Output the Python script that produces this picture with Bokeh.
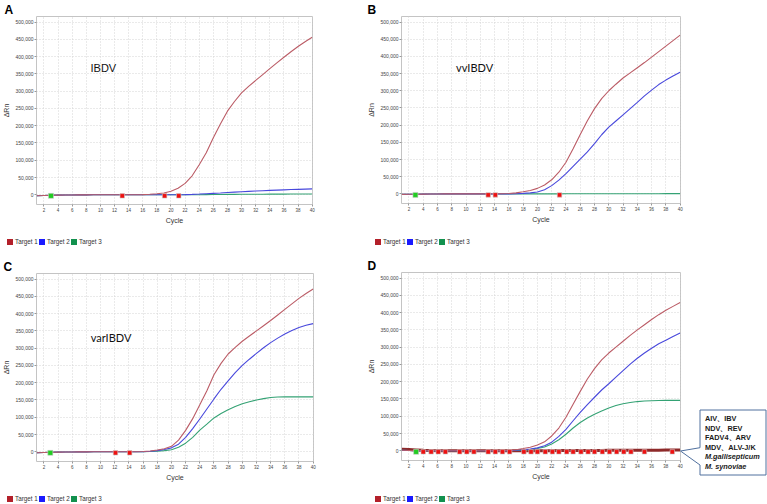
from bokeh.plotting import figure
from bokeh.layouts import row, column
from bokeh.models import Label, NumeralTickFormatter, FixedTicker, Range1d, Div
from bokeh.embed import file_html
from bokeh.resources import INLINE

# ---------------- data ----------------
cycles = list(range(1, 41))
x_ticks = list(range(2, 41, 2))
y_ticks = list(range(0, 500001, 50000))
legend_labels = ["Target 1", "Target 2", "Target 3"]

a_t1 = [-2500, -1800, -1200, -800, -500, -300, -200, -100, 0, 0, 0, 0, 0, 100, 300, 700, 1500, 3000, 5500, 10500,
        19000, 33000, 55000, 87000, 122000, 165000, 205000, 242000, 270000, 295000, 314000, 331000, 348000, 365000,
        382000, 398000, 414000, 429000, 443000, 456000]
a_t2 = [-2500, -1800, -1200, -800, -500, -300, -200, -100, 0, 0, 0, 0, 0, 0, 0, 0, 0, 0, 0, 0,
        200, 600, 1300, 2200, 3200, 4300, 5400, 6600, 7800, 8900, 10000, 11000, 11900, 12800, 13600, 14400, 15200,
        15900, 16600, 17300]
a_t3 = [-2500, -1800, -1200, -800, -500, -300, -200, -100, 0, 0, 0, 0, 0, 0, 0, 0, 0, 0, 0, 0,
        0, 0, 200, 400, 600, 800, 1000, 1200, 1400, 1500, 1600, 1700, 1800, 1900, 2000, 2100, 2200, 2300, 2400, 2500]

b_t1 = [-1500, -1200, -900, -600, -400, -200, -100, 0, 0, 0, 0, 0, 0, 200, 500, 1000, 3000, 6000, 10000, 16000,
        26000, 41000, 63000, 92000, 131000, 173000, 213000, 248000, 277000, 300000, 319000, 337000, 352000, 367000,
        382000, 398000, 414000, 430000, 446000, 462000]
b_t2 = [-1500, -1200, -900, -600, -400, -200, -100, 0, 0, 0, 0, 0, 0, 0, 0, 0, 500, 1500, 3000, 5500,
        12000, 24000, 40000, 59000, 80000, 101000, 122000, 146000, 172000, 194000, 212000, 230000, 248000, 266000,
        285000, 302000, 318000, 331000, 343000, 354000]
b_t3 = [-1500, -1200, -900, -600, -400, -200, -100, 0, 0, 0, 0, 0, 0, 0, 0, 0, 0, 0, 0, 0,
        0, 0, 100, 150, 200, 250, 300, 350, 400, 400, 450, 450, 500, 500, 500, 550, 550, 600, 600, 600]

c_t1 = [-2500, -1800, -1200, -800, -500, -300, -200, -100, 0, 0, 0, 0, 0, 0, 0, 1000, 2500, 5500, 9000, 16000,
        34000, 62000, 96000, 136000, 177000, 223000, 256000, 283000, 302000, 320000, 335000, 350000, 365000, 380000,
        396000, 412000, 428000, 444000, 458000, 471000]
c_t2 = [-2500, -1800, -1200, -800, -500, -300, -200, -100, 0, 0, 0, 0, 0, 0, 0, 500, 1500, 3500, 6500, 11500,
        22000, 42000, 67000, 95000, 124000, 153000, 181000, 205000, 229000, 250000, 268000, 285000, 301000, 316000,
        329000, 341000, 351000, 360000, 366000, 371000]
c_t3 = [-2500, -1800, -1200, -800, -500, -300, -200, -100, 0, 0, 0, 0, 0, 0, 0, 300, 1000, 2000, 3500, 6000,
        13000, 25000, 42000, 63000, 80000, 98000, 111000, 122000, 131000, 139000, 145000, 150000, 154000, 157000,
        158500, 159000, 159000, 159000, 159000, 159000]

d_t1 = [1500, 1000, 600, 300, 100, 0, 0, 0, 0, 0, 0, 0, 0, 0, 0, 1000, 3000, 6500, 10500, 17000,
        26000, 43000, 66000, 97000, 135000, 172000, 208000, 238000, 263000, 283000, 300000, 317000, 334000, 350000,
        365000, 380000, 394000, 407000, 418000, 429000]
d_t2 = [1500, 1000, 600, 300, 100, 0, 0, 0, 0, 0, 0, 0, 0, 0, 0, 500, 1500, 3000, 5000, 8500,
        14500, 25000, 42000, 62000, 87000, 111000, 134000, 155000, 176000, 194000, 213000, 232000, 251000, 268000,
        283000, 297000, 310000, 320000, 331000, 341000]
d_t3 = [1500, 1000, 600, 300, 100, 0, 0, 0, 0, 0, 0, 0, 0, 0, 0, 300, 1000, 2000, 3500, 6500,
        11000, 20000, 32000, 48000, 66000, 82000, 95000, 106000, 115000, 124000, 131000, 136000, 140000, 142500,
        144000, 145000, 145500, 146000, 146000, 146000]
d_other = [4500, 3500, 2500, 1500, 800, 300, 0, 0, 0, 0, 0, 0, 0, 0, 0, 0, 0, 0, 0, 200,
           400, 500, 600, 700, 800, 900, 1000, 1100, 1200, 1300, 1400, 1500, 1600, 1700, 1800, 1900, 2000, 2100,
           2200, 2300]

ct_level = -3000
a_ct_red = [13.1, 19.1, 21.1]
a_ct_green = [3.0]
b_ct_red = [13.1, 14.1, 23.1]
b_ct_green = [2.9]
c_ct_red = [12.1, 14.1]
c_ct_green = [2.9]
d_ct_red = [4.0, 5.1, 6.1, 7.1, 9.1, 10.1, 11.1, 13.1, 14.1, 15.1, 16.1, 18.1, 19.1, 20.0, 21.1, 22.1, 23.0,
            24.1, 25.0, 26.1, 27.1, 28.0, 29.1, 30.1, 31.1, 32.1, 33.1, 35.0, 38.9]
d_ct_green = [3.0]

callout_lines = ["AIV\u3001IBV", "NDV\u3001REV", "FADV4\u3001ARV", "MDV\u3001ALV-J/K", "M.gallisepticum", "M. synoviae"]

# ---------------- style ----------------
RED, BLUE, GREEN = "#bb5c66", "#4848dc", "#34a274"
LEG = ["#b3202a", "#1a1aff", "#12914e"]
FONT = "Liberation Sans"


def make_panel(w, h, fl, mr, mt, mb, series, cts, virus, letter, extra=None):
    p = figure(width=w, height=h, x_range=Range1d(0.95, 40.05), y_range=Range1d(-28000, 516000),
               output_backend="svg", toolbar_location=None,
               min_border_left=fl, min_border_right=mr, min_border_top=mt, min_border_bottom=mb)
    p.background_fill_color = "white"
    p.border_fill_color = "white"
    p.outline_line_color = "#c4c4c4"
    p.xaxis.ticker = FixedTicker(ticks=x_ticks)
    p.yaxis.ticker = FixedTicker(ticks=y_ticks)
    p.yaxis.formatter = NumeralTickFormatter(format="0,0")
    for ax in (p.xaxis[0], p.yaxis[0]):
        ax.axis_line_color = None
        ax.major_tick_line_color = "#999999"
        ax.major_tick_out = 2
        ax.major_tick_in = 0
        ax.minor_tick_line_color = None
        ax.major_label_text_color = "#444444"
        ax.major_label_text_font = FONT
        ax.axis_label_text_font = FONT
        ax.axis_label_text_font_style = "normal"
        ax.axis_label_text_color = "#333333"
        ax.axis_label_text_font_size = "7px"
        ax.major_label_standoff = 1
        ax.axis_label_standoff = 2
    p.xaxis.major_label_text_font_size = "4.5px"
    p.yaxis.major_label_text_font_size = "5px"
    p.xaxis.axis_label = "Cycle"
    p.yaxis.axis_label = "\u0394Rn"
    p.xgrid.grid_line_color = "#d4d4d4"
    p.ygrid.grid_line_color = "#d4d4d4"
    p.xgrid.grid_line_dash = "1 2"
    p.ygrid.grid_line_dash = "1 2"
    p.xgrid.ticker = FixedTicker(ticks=x_ticks)
    p.ygrid.ticker = FixedTicker(ticks=y_ticks)

    # panel letter as title
    p.title.text = letter
    p.title.align = "left"
    p.title.offset = -fl
    p.title.standoff = 0
    p.title.text_font = FONT
    p.title.text_font_size = "12px"
    p.title.text_font_style = "bold"
    p.title.text_color = "#000000"

    if extra is not None:
        p.line(cycles, extra, line_color="#8e2a2a", line_width=3)
    t1, t2, t3 = series
    p.line(cycles, t3, line_color=GREEN, line_width=1.1)
    p.line(cycles, t2, line_color=BLUE, line_width=1.1)
    p.line(cycles, t1, line_color=RED, line_width=1.1)

    red_ct, green_ct = cts
    p.scatter(red_ct, [ct_level] * len(red_ct), marker="square", size=4.5, fill_color="#ee1111",
              line_color="#cccccc", line_width=0.6)
    p.scatter(green_ct, [ct_level] * len(green_ct), marker="square", size=5, fill_color="#22cc22",
              line_color="#cccccc", line_width=0.6)

    if virus is not None:
        vx, vy, vtext, vfont = virus
        p.add_layout(Label(x=vx, y=vy, text=vtext, text_font=vfont, text_font_size="11px",
                           text_color="#111111", text_baseline="middle"))
    return p


def legend_div(w, h, x0, yc):
    parts = [f'<svg xmlns="http://www.w3.org/2000/svg" width="{w}" height="{h}" style="display:block">']
    for i, lab in enumerate(legend_labels):
        sx = x0 + 32 * i
        parts.append(f'<rect x="{sx}" y="{yc - 3}" width="6" height="6" fill="{LEG[i]}"/>')
        parts.append(f'<text x="{sx + 8}" y="{yc}" dominant-baseline="middle" font-family="{FONT}" '
                     f'font-size="6.3px" fill="#333333">{lab}</text>')
    parts.append('</svg>')
    return Div(text="".join(parts), width=w, height=h, margin=0)


pA = make_panel(365, 230, 32, 53, 16, 26, (a_t1, a_t2, a_t3), (a_ct_red, a_ct_green),
                (8.6, 366000, "IBDV", FONT), "A")
pB = make_panel(402, 230, 34, 87, 16, 27, (b_t1, b_t2, b_t3), (b_ct_red, b_ct_green),
                (8.6, 367000, "vvIBDV", "Lato"), "B")
pC = make_panel(365, 236, 33, 52, 23, 25, (c_t1, c_t2, c_t3), (c_ct_red, c_ct_green),
                (8.6, 332000, "varIBDV", "Lato"), "C")
pD = make_panel(318, 236, 34, 3, 22, 26, (d_t1, d_t2, d_t3), (d_ct_red, d_ct_green),
                None, "D", extra=d_other)

legA = legend_div(365, 20, 7, 12)
legB = legend_div(402, 20, 10, 12)
legC = legend_div(365, 18, 7, 13)
legD = legend_div(318, 18, 10, 13)

# callout next to panel D (svg inside a Div); coordinates relative to the Div's top-left
div_w, div_h = 84, 254
pts = [(17, 160), (83, 160), (83, 225), (17, 225), (17, 215), (-2.5, 201), (17, 197.7)]
poly = " ".join(f"{x},{y}" for x, y in pts)
svg = [f'<svg xmlns="http://www.w3.org/2000/svg" width="{div_w}" height="{div_h}" '
       f'style="display:block;overflow:visible">',
       f'<polygon points="{poly}" fill="white" stroke="#50709e" stroke-width="1"/>']
for i, txt in enumerate(callout_lines):
    style = "italic" if i >= 4 else "normal"
    svg.append(f'<text x="22" y="{169 + i * 9.6:.1f}" dominant-baseline="middle" font-family="Lato" '
               f'font-weight="bold" font-style="{style}" font-size="7.3px" fill="#1a1a1a">{txt}</text>')
svg.append('</svg>')
callout = Div(text="".join(svg), width=div_w, height=div_h, margin=0, styles={"overflow": "visible"})

layout = column(
    row(column(pA, legA, spacing=0), column(pB, legB, spacing=0), spacing=0),
    row(column(pC, legC, spacing=0), column(pD, legD, spacing=0), callout, spacing=0),
    spacing=0)
open("out.html", "w").write(file_html(layout, INLINE))
